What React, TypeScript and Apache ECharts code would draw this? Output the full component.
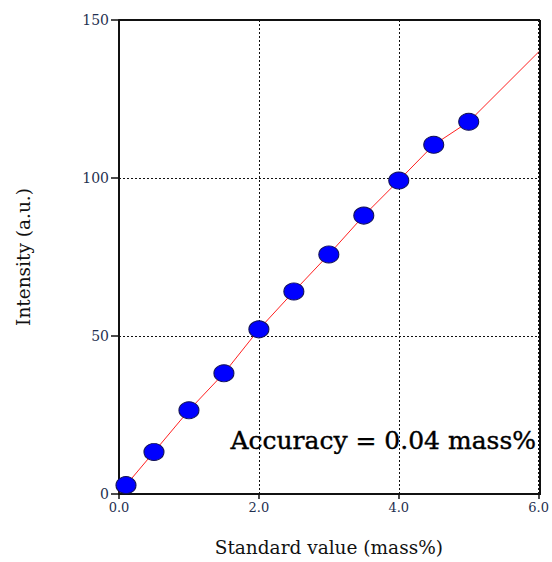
import React, { useEffect, useRef } from "react";
import * as echarts from "echarts";

const standardValues = [0.1, 0.5, 1.0, 1.5, 2.0, 2.5, 3.0, 3.5, 4.0, 4.5, 5.0];
const intensities = [2.8, 13.3, 26.5, 38.2, 52.1, 64.1, 75.8, 88.1, 99.2, 110.5, 117.8];
const fitX = [0.0, 0.1, 0.5, 1.0, 1.5, 2.0, 2.5, 3.0, 3.5, 4.0, 4.5, 5.0, 6.0];
const fitY = [0.5, 2.8, 13.3, 26.5, 38.2, 52.1, 64.1, 75.8, 88.1, 99.2, 110.5, 117.8, 139.9];
const xTicks = [0, 2, 4, 6];
const yTicks = [0, 50, 100, 150];

const FONT = "DejaVu Serif";

export default function App() {
  const ref = useRef<HTMLDivElement>(null);
  useEffect(() => {
    document.body.style.margin = "0";
    const chart = echarts.init(ref.current!, null, { renderer: "svg" });
    chart.setOption({
      animation: false,
      backgroundColor: "#ffffff",
      grid: { left: 119, right: 12, top: 20, bottom: 67, show: false },
      xAxis: {
        type: "value",
        min: xTicks[0],
        max: xTicks[xTicks.length - 1],
        interval: 2,
        name: "Standard value (mass%)",
        nameLocation: "middle",
        nameGap: 44,
        nameTextStyle: { fontFamily: FONT, fontSize: 18.5, color: "#111" },
        axisLine: { show: true, lineStyle: { color: "#111", width: 2 } },
        axisTick: { show: true, length: 5, lineStyle: { color: "#111", width: 1.5 } },
        axisLabel: {
          fontFamily: FONT,
          fontSize: 13,
          color: "#1f3050",
          margin: 7,
          formatter: (v: number) => v.toFixed(1),
        },
        splitLine: { show: true, lineStyle: { color: "#111", type: [2, 2], width: 1 } },
      },
      yAxis: {
        type: "value",
        min: yTicks[0],
        max: yTicks[yTicks.length - 1],
        interval: 50,
        name: "Intensity (a.u.)",
        nameLocation: "middle",
        nameGap: 86,
        nameRotate: 90,
        nameTextStyle: { fontFamily: FONT, fontSize: 18.5, color: "#111" },
        axisLine: { show: true, lineStyle: { color: "#111", width: 2 } },
        axisTick: { show: true, length: 8, lineStyle: { color: "#111", width: 1.5 } },
        axisLabel: { fontFamily: FONT, fontSize: 14, color: "#1f3050", margin: 10 },
        splitLine: { show: true, lineStyle: { color: "#111", type: [2, 2], width: 1 } },
      },
      graphic: [
        {
          type: "line",
          shape: { x1: 119, y1: 20, x2: 540, y2: 20 },
          style: { stroke: "#111", lineWidth: 2 },
          z: 10,
        },
        {
          type: "line",
          shape: { x1: 540, y1: 20, x2: 540, y2: 495 },
          style: { stroke: "#111", lineWidth: 2 },
          z: 10,
        },
        {
          type: "text",
          x: 536,
          y: 440,
          z: 20,
          style: {
            text: "Accuracy = 0.04 mass%",
            fontFamily: FONT,
            fontSize: 25,
            fill: "#000",
            align: "right",
            verticalAlign: "middle",
            stroke: "#000",
            lineWidth: 0.4,
          },
        },
      ],
      series: [
        {
          type: "line",
          data: fitX.map((x, i) => [x, fitY[i]]),
          showSymbol: false,
          symbol: "none",
          lineStyle: { color: "#ff2020", width: 1 },
          z: 2,
        },
        {
          type: "scatter",
          data: standardValues.map((x, i) => [x, intensities[i]]),
          symbol: "circle",
          symbolSize: [20, 17],
          itemStyle: { color: "#0000ff", borderColor: "#111155", borderWidth: 1, opacity: 1 },
          z: 3,
        },
      ],
    });
    return () => chart.dispose();
  }, []);
  return <div ref={ref} style={{ width: 552, height: 562 }} />;
}
